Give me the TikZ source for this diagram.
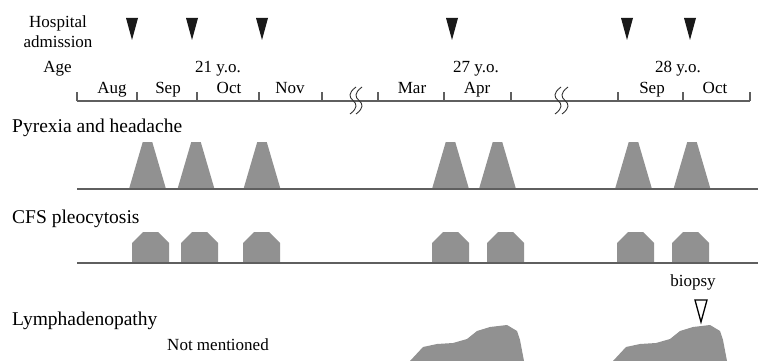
\documentclass[tikz,border=0pt]{standalone}
\usepackage{fontspec}
\setmainfont{Liberation Serif}
\definecolor{symgray}{RGB}{145,145,145}
\definecolor{linegray}{RGB}{95,95,95}
\begin{document}
\begin{tikzpicture}[x=1pt,y=-1pt,
  lbl/.style={font=\fontsize{17}{20}\selectfont, inner sep=0pt, anchor=base},
  rowlbl/.style={font=\fontsize{19.5}{22}\selectfont, inner sep=0pt, anchor=base west},
  admark/.style={fill=black!90},
  symp/.style={fill=symgray},
  axisline/.style={draw=linegray, line width=1.1pt},
  breakmark/.style={draw=black!80, line width=0.9pt}]
\useasboundingbox (0,0) rectangle (758,361);

% left labels
\node[lbl] (hosp) at (58,28) {Hospital};
\node[lbl] (admis) at (58,48) {admission};
\node[lbl] (age) at (57.5,73) {Age};
\node[lbl] (y21) at (218,73) {21 y.o.};
\node[lbl] (y27) at (476,73) {27 y.o.};
\node[lbl] (y28) at (678,73) {28 y.o.};

% admission markers
\foreach \c in {132,192,262,452,627,690}
  \fill[admark] (\c-6,18) -- (\c+6,18) -- (\c,40) -- cycle;

% months
\foreach \m/\x [count=\i] in {Aug/112,Sep/168,Oct/229,Nov/290,Mar/412,Apr/477,Sep/652,Oct/715}
  \node[lbl] (mon\i) at (\x,94) {\m};

% axis
\coordinate (axL) at (77,101);
\coordinate (axR) at (750,101);
\draw[axisline] (axL) -- (axR);
\foreach \t in {77,137,197,259,322,378,444,511,618,683,750}
  \draw[axisline] (\t,101) -- (\t,92);
\foreach \b in {353,359,558,565}
  \draw[breakmark] (\b+3,87) .. controls (\b-5,93) and (\b-4,97) .. (\b,100.5)
                            .. controls (\b+4,104) and (\b+5,108) .. (\b-3,114);

% Pyrexia
\node[rowlbl] (pyr) at (12,132) {Pyrexia and headache};
\foreach \c in {147.5,196,262,450.5,497.5,633.5,692}
  \fill[symp] (\c-18.5,189) -- (\c-4.75,142) -- (\c+4.75,142) -- (\c+18.5,189) -- cycle;
\coordinate (b1L) at (77,189);
\coordinate (b1R) at (758,189);
\draw[axisline] (b1L) -- (b1R);

% CFS
\node[rowlbl] (cfs) at (12,223) {CFS pleocytosis};
\foreach \l in {132,181,243,432,487,617,672}
  \fill[symp] (\l,263) -- (\l,243) -- (\l+11,232) -- (\l+26,232) -- (\l+37,243) -- (\l+37,263) -- cycle;
\coordinate (b2L) at (77,263);
\coordinate (b2R) at (758,263);
\draw[axisline] (b2L) -- (b2R);

% Lymphadenopathy
\node[rowlbl] (lym) at (12,325) {Lymphadenopathy};
\node[lbl] (notm) at (218,350) {Not mentioned};
\node[lbl] (bio) at (693,286) {biopsy};
\draw[line width=1.3pt, line join=miter] (695,300) -- (707,300) -- (701,322) -- cycle;
\foreach \o in {0,203}
  \fill[symp, xshift=\o] (410,361) -- (423,347) -- (437,344) -- (453,343) -- (467,339)
     -- (477,331) -- (490,327) -- (507,325) -- (517,331) -- (520,340) -- (524,361) -- cycle;
\end{tikzpicture}
\end{document}
